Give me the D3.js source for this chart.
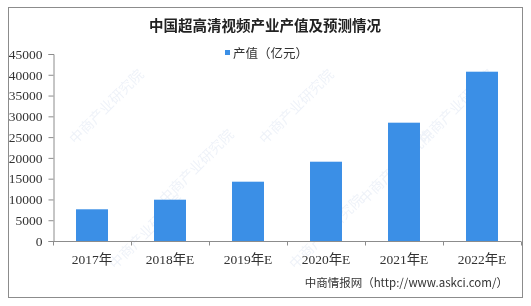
<!DOCTYPE html>
<html>
<head>
<meta charset="utf-8">
<script src="https://cdn.jsdelivr.net/npm/d3@7"></script>
<style>
body{margin:0;background:#fff;}
svg text{font-family:"Noto Sans CJK SC","Liberation Serif",serif;}
</style>
</head>
<body>
<div id="chart"></div>
<script>
// 年份 / 产值（亿元）
var years = ["2017年","2018年E","2019年E","2020年E","2021年E","2022年E"];
var values = [7630, 9940, 14270, 19080, 28470, 40740];
var yTicks = [0,5000,10000,15000,20000,25000,30000,35000,40000,45000];

var W = 531, H = 306;
var svg = d3.select("#chart").append("svg").attr("width", W).attr("height", H);

// 外框
svg.append("rect")
    .attr("x", 8.5).attr("y", 7.5)
    .attr("width", 514).attr("height", 290)
    .attr("fill", "#fff").attr("stroke", "#8c8c8c");

// 水印
var wm = svg.append("g").attr("opacity", 0.1);
[[110,110],[300,110],[460,110],[200,170],[400,170],[150,235],[330,235]].forEach(function(p){
    wm.append("text")
        .attr("transform", "translate(" + p[0] + "," + p[1] + ") rotate(-45)")
        .attr("text-anchor", "middle")
        .attr("font-size", 14)
        .attr("fill", "#5a7fc0")
        .text("中商产业研究院");
});

var x = d3.scaleBand().domain(years).range([53, 521]).paddingInner(0.59).paddingOuter(0.295);
var y = d3.scaleLinear().domain([0, 45000]).range([241, 54]);

// 标题
svg.append("text")
    .attr("x", 265).attr("y", 31)
    .attr("text-anchor", "middle")
    .attr("font-size", 14.5).attr("font-weight", "bold")
    .attr("fill", "#222")
    .text("中国超高清视频产业产值及预测情况");

// 图例
svg.append("rect").attr("x", 225).attr("y", 50).attr("width", 5).attr("height", 5).attr("fill", "#3b8fe6");
svg.append("text")
    .attr("x", 233).attr("y", 58)
    .attr("font-size", 12.5).attr("fill", "#333")
    .text("产值（亿元）");

// 柱子
svg.selectAll(".bar")
    .data(values)
    .enter().append("rect")
    .attr("class", "bar")
    .attr("x", function(d, i){ return x(years[i]); })
    .attr("y", function(d){ return y(d); })
    .attr("width", x.bandwidth())
    .attr("height", function(d){ return y(0) - y(d); })
    .attr("fill", "#3b8fe6");

// y轴
var yAxis = svg.append("g")
    .attr("transform", "translate(53.5,0)")
    .call(d3.axisLeft(y).tickValues(yTicks).tickSize(5).tickPadding(6).tickFormat(d3.format("d")));
yAxis.selectAll("text")
    .style("font-family", "'Liberation Serif', serif")
    .style("font-size", "13.5px").attr("fill", "#333");
yAxis.selectAll("line, path").attr("stroke", "#8c8c8c");

// x轴
var step = x.step();
var xAxis = svg.append("g").attr("transform", "translate(0,241.5)");
xAxis.append("line").attr("x1", 53).attr("x2", 521).attr("stroke", "#8c8c8c");
xAxis.selectAll(".tk")
    .data(d3.range(years.length + 1))
    .enter().append("line")
    .attr("x1", function(i){ return 53.5 + i * step; })
    .attr("x2", function(i){ return 53.5 + i * step; })
    .attr("y1", 0).attr("y2", 4)
    .attr("stroke", "#8c8c8c");
xAxis.selectAll(".lb")
    .data(years)
    .enter().append("text")
    .attr("x", function(d){ return x(d) + x.bandwidth() / 2; })
    .attr("y", 22)
    .attr("text-anchor", "middle")
    .style("font-family", "'Liberation Serif', 'Noto Sans CJK SC', serif")
    .style("font-size", "13.5px").attr("fill", "#333")
    .text(function(d){ return d; });

// 来源
svg.append("text")
    .attr("x", 508).attr("y", 287)
    .attr("text-anchor", "end")
    .attr("font-size", 11.5).attr("fill", "#333")
    .text("中商情报网（http://www.askci.com/）");
</script>
</body>
</html>
